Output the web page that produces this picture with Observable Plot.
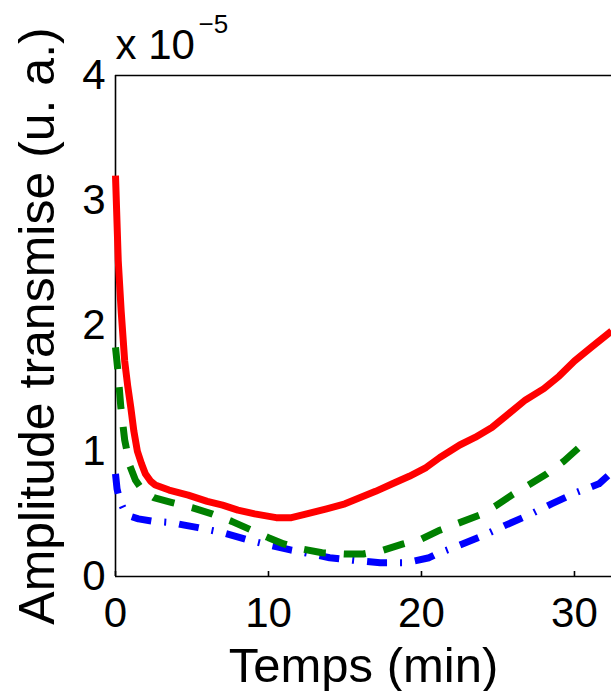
<!DOCTYPE html>
<html><head><meta charset="utf-8">
<script src="https://cdn.jsdelivr.net/npm/d3@7"></script>
<script src="https://cdn.jsdelivr.net/npm/@observablehq/plot@0.6"></script>
<style>html,body{margin:0;padding:0;background:#fff;overflow:hidden}</style>
</head><body><div id="chart"></div>
<script>
const xTicks = [0, 10, 20, 30];
const yTicks = [0, 1, 2, 3, 4];
const xLabel = "Temps (min)";
const yLabel = "Amplitude transmise (u. a.)";
const exponentBase = "x 10";
const exponentPower = "\u22125";

const redT = [0, 0.18, 0.37, 0.6, 0.8, 1.0, 1.2, 1.43, 1.7, 1.95, 2.3, 2.6, 3.5, 4.75, 6, 7, 8, 9.1, 10.5, 11.5, 12.5, 13.8, 15, 16, 17, 18.1, 19.2, 20.3, 21.2, 22.5, 23.5, 24.6, 25.7, 26.8, 28, 29, 30, 31.1, 32.42];
const redV = [3.2, 2.52, 2.12, 1.72, 1.52, 1.35, 1.16, 1.0, 0.9, 0.82, 0.76, 0.73, 0.69, 0.65, 0.6, 0.57, 0.53, 0.5, 0.47, 0.47, 0.5, 0.54, 0.58, 0.63, 0.68, 0.74, 0.8, 0.87, 0.95, 1.05, 1.11, 1.19, 1.3, 1.41, 1.5, 1.6, 1.72, 1.83, 1.96];

const greenT = [0, 0.15, 0.35, 0.6, 0.95, 1.3, 1.76, 2.5, 3.7, 5, 6.3, 7.6, 8.9, 10, 11, 12.2, 13.5, 15, 16.2, 17.5, 18.8, 20, 21.2, 22.5, 23.8, 24.8, 25.9, 27, 28.2, 29.3, 30.3, 30.7];
const greenV = [1.83, 1.65, 1.35, 1.09, 0.88, 0.77, 0.69, 0.63, 0.59, 0.55, 0.5, 0.44, 0.37, 0.31, 0.26, 0.22, 0.19, 0.18, 0.18, 0.21, 0.26, 0.3, 0.37, 0.43, 0.49, 0.56, 0.65, 0.73, 0.82, 0.92, 1.03, 1.08];

const blueT = [0, 0.1, 0.3, 0.6, 1.0, 1.5, 2.5, 3.7, 4.5, 5.4, 7, 8.7, 10.1, 11.5, 12.8, 14, 15.5, 17.3, 19, 20.5, 21, 22.5, 24.1, 25.5, 27, 28.5, 30.1, 31.6, 32.42];
const blueV = [0.82, 0.7, 0.6, 0.52, 0.48, 0.46, 0.44, 0.43, 0.41, 0.39, 0.35, 0.29, 0.25, 0.21, 0.18, 0.15, 0.13, 0.11, 0.11, 0.15, 0.18, 0.25, 0.33, 0.41, 0.49, 0.58, 0.67, 0.74, 0.83];

const rows = (T, V) => T.map((t, i) => ({t, v: V[i]}));
const red = rows(redT, redV), green = rows(greenT, greenV), blue = rows(blueT, blueV);

const chart = Plot.plot({
  width: 611, height: 691,
  marginLeft: 115, marginRight: 0, marginTop: 75, marginBottom: 115,
  x: {domain: [0, 32.42], axis: null},
  y: {domain: [yTicks[0], yTicks[yTicks.length - 1]], axis: null},
  style: {fontFamily: "'Liberation Sans', Arial, sans-serif", background: "white", color: "black", overflow: "visible"},
  marks: [
    Plot.ruleX([xTicks[0]], {stroke: "black", strokeWidth: 1.6}),
    Plot.ruleY([yTicks[0]], {stroke: "black", strokeWidth: 1.6}),
    Plot.ruleY([yTicks[yTicks.length - 1]], {stroke: "black", strokeWidth: 1.6}),
    Plot.axisX(xTicks, {tickSize: -5, tickFormat: () => "", strokeWidth: 1.6, label: null}),
    Plot.axisX(xTicks, {tickSize: 0, tickPadding: 21, fontSize: 42, tickFormat: d => String(d), label: null}),
    Plot.axisY(yTicks, {tickSize: 0, tickPadding: 10, fontSize: 42, tickFormat: d => String(d), label: null}),
    Plot.line(blue, {x: "t", y: "v", stroke: "#0000ff", strokeWidth: 7, strokeDasharray: "20,13,2,13", strokeLinecap: "butt"}),
    Plot.line(green, {x: "t", y: "v", stroke: "#008000", strokeWidth: 7, strokeDasharray: "22,18", strokeLinecap: "butt"}),
    Plot.line(red, {x: "t", y: "v", stroke: "#ff0000", strokeWidth: 7, strokeLinecap: "butt"}),
    Plot.text([exponentBase], {text: d => d, frameAnchor: "top-left", textAnchor: "start", lineAnchor: "middle", dy: -30, fontSize: 42}),
    Plot.text([exponentPower], {text: d => d, frameAnchor: "top-left", textAnchor: "start", lineAnchor: "middle", dx: 83, dy: -51, fontSize: 26}),
    Plot.text([yLabel], {text: d => d, frameAnchor: "left", textAnchor: "middle", lineAnchor: "middle", rotate: -90, dx: -78, fontSize: 50}),
    Plot.text([xLabel], {text: d => d, frameAnchor: "bottom", textAnchor: "middle", lineAnchor: "middle", dy: 90, fontSize: 49})
  ]
});
document.getElementById("chart").appendChild(chart);
</script>
</body></html>
